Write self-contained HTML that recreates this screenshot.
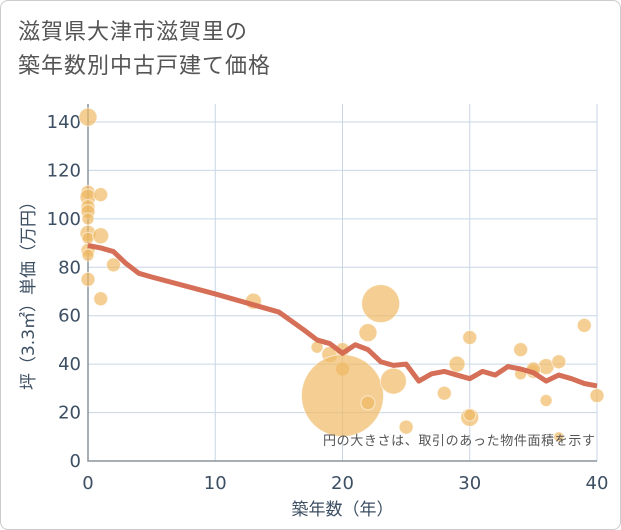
<!DOCTYPE html>
<html><head><meta charset="utf-8"><style>
body{margin:0;background:#fff;}
.wrap{width:619px;height:528px;border:1px solid #ccc;border-radius:8px;position:relative;overflow:hidden;font-family:"Liberation Sans","Noto Sans CJK JP",sans-serif;}
.title{position:absolute;left:17px;top:14px;font-size:22px;line-height:34px;color:#555;letter-spacing:1px;}
svg text{font-family:"DejaVu Sans","Noto Sans CJK JP",sans-serif;}
</style></head><body>
<div class="wrap">
<div class="title">滋賀県大津市滋賀里の<br>築年数別中古戸建て価格</div>
<svg id="chart" width="621" height="530" style="position:absolute;left:0;top:0"></svg>
</div>
<script>
const xTicks=[0,10,20,30,40];
const yTicks=[0,20,40,60,80,100,120,140];
const bubbleX=[0,0,0,0,0,0,0,0,0,0,0,1,1,1,2,13,18,19,20,20,20,22,22,23,24,25,28,29,30,30,30,34,34,35,36,36,37,37,39,40,35];
const bubbleY=[142,111,109,105,103,100,94,92,87,85,75,110,93,67,81,66,47,44,46,38,27,53,24,65,33,14,28,40,51,18,19,46,36,37,39,25,41,10,56,27,38];
const bubbleR=[9,7,8,7,7,6,8,6,7,6,7,7,8,7,7,8,6,8,7,7,41,9,7,19,13,7,7,8,7,9,6,7,6,7,8,6,7,5,7,7,7];
const lineX=[0,1,2,3,4,5,10,13,15,17,18,19,20,21,22,23,24,25,26,27,28,29,30,31,32,33,34,35,36,37,38,39,40];
const lineY=[89,88,86.5,81.5,77.5,76,69,64.5,61.5,54,50,48.5,44.5,48,46,41,39.5,40,33,36,37,35.5,34,37,35.5,39,38,36.5,33,35.5,34,32,31];
const NS="http://www.w3.org/2000/svg";
const svg=document.getElementById('chart');
const X0=87,X1=596,Y0=460,Y1=121;
const sx=v=>X0+(X1-X0)*v/40;
const sy=v=>Y0-(Y0-Y1)*v/140;
function mk(t,a){const e=document.createElementNS(NS,t);for(const k in a)e.setAttribute(k,a[k]);svg.appendChild(e);return e;}
xTicks.forEach(t=>{
 const g=mk('line',{x1:sx(t),x2:sx(t),y1:103,y2:Y0,stroke:'#c8d6e3','stroke-width':1});
 
 
 const l=mk('text',{x:sx(t),y:488,'text-anchor':'middle','font-size':18,fill:'#3d4f63'});l.textContent=t;
 
 
});
yTicks.forEach(t=>{
 const g=mk('line',{x1:X0,x2:X1,y1:sy(t),y2:sy(t),stroke:'#c8d6e3','stroke-width':1});
 
 
 const l=mk('text',{x:80,y:sy(t)+6,'text-anchor':'end','font-size':18,fill:'#3d4f63'});l.textContent=t;
 
 
});
const ax=mk('path',{d:`M${X0} 103V${Y0}H${X1}`,fill:'none',stroke:'#8a939c','stroke-width':1.5});


bubbleX.forEach((x,i)=>{
 const c=mk('circle',{cx:sx(x),cy:sy(bubbleY[i]),r:bubbleR[i],fill:'rgba(240,185,100,0.7)',stroke:'rgba(255,255,255,0.6)','stroke-width':1});
 
 
});
const p=mk('polyline',{points:lineX.map((x,i)=>sx(x)+','+sy(lineY[i])).join(' '),fill:'none',stroke:'#d4674f','stroke-width':5,'stroke-linejoin':'round',opacity:0.95});


const note=mk('text',{x:594,y:444,'text-anchor':'end','font-size':13,fill:'#555',textLength:272});note.textContent='円の大きさは、取引のあった物件面積を示す';


const xt=mk('text',{x:sx(20),y:514,'text-anchor':'middle','font-size':17,fill:'#3d4f63'});xt.textContent='築年数（年）';


const yt=mk('text',{x:0,y:0,'text-anchor':'middle','font-size':17,fill:'#3d4f63',transform:`translate(33,${sy(70)}) rotate(-90)`});yt.textContent='坪（3.3㎡）単価（万円）';


</script>
</body></html>
